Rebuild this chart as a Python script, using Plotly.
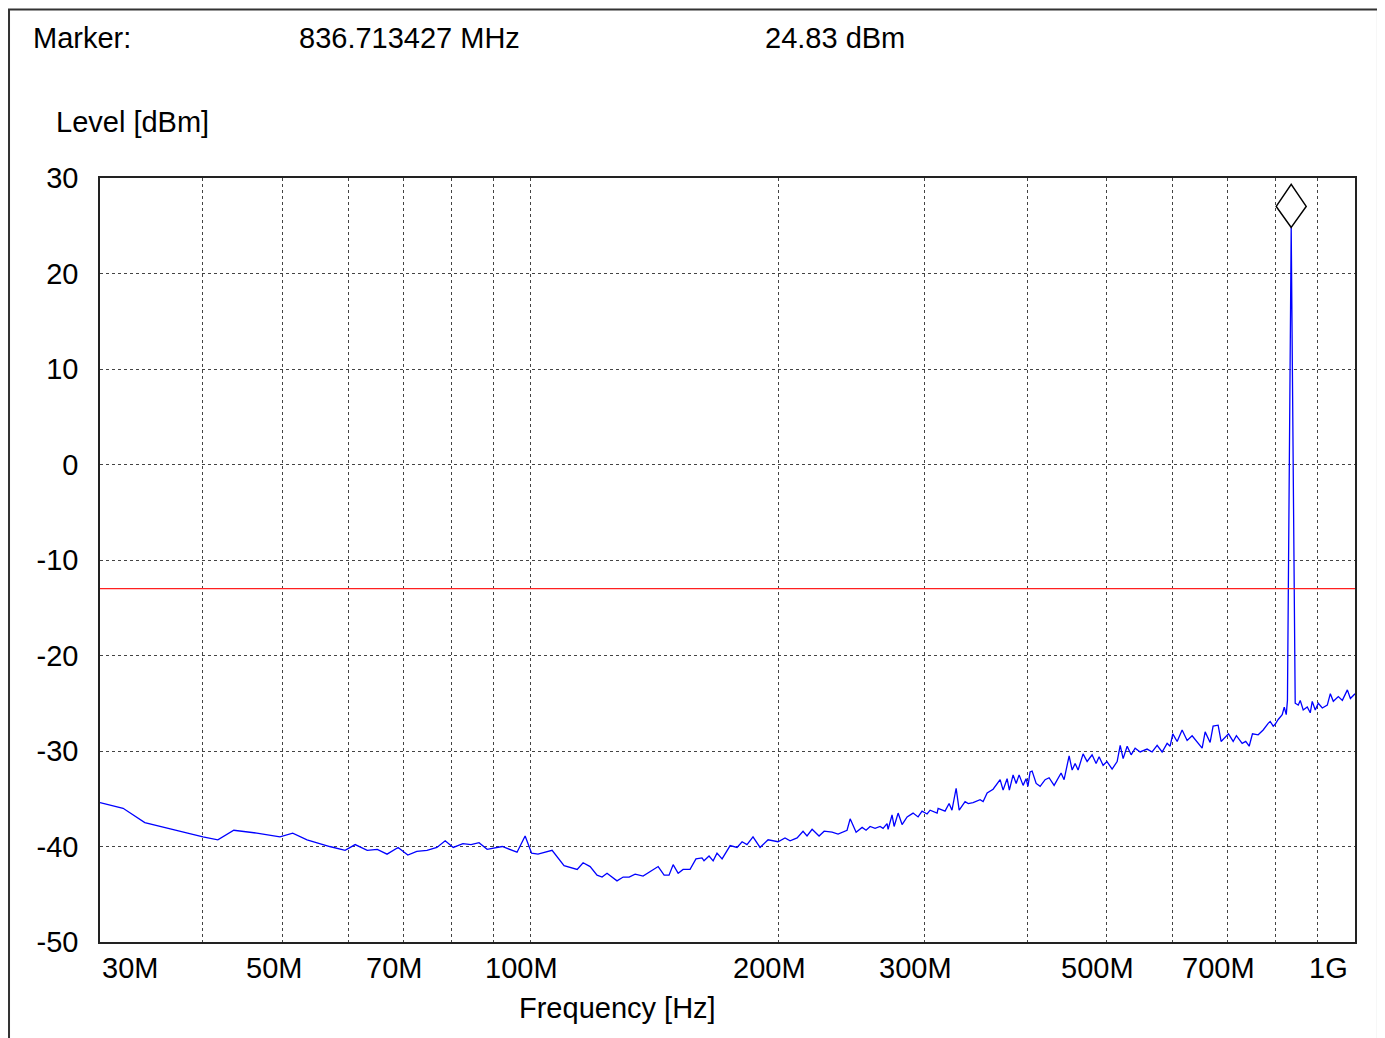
import numpy as np
import plotly.graph_objects as go

# sweep, frequency in MHz, level in dBm
freq_mhz = [
    30.0, 32.0, 34.0, 36.2, 38.0, 40.0, 41.7, 43.6, 46.5, 49.6,
    51.4, 53.5, 57.0, 59.5, 61.2, 63.3, 65.1, 66.9, 69.0, 70.9,
    72.7, 74.8, 76.9, 78.7, 80.5, 82.7, 84.6, 86.5, 88.5, 90.5,
    92.3, 96.2, 98.4, 100.2, 102.0, 106.1, 109.7, 113.8, 115.7, 118.0,
    120.3, 122.0, 123.7, 127.2, 129.4, 131.6, 133.8, 136.8, 142.7, 145.1,
    147.1, 148.8, 150.9, 153.0, 156.0, 158.6, 161.3, 162.2, 164.5, 166.4,
    168.2, 170.6, 174.5, 177.9, 180.4, 182.9, 186.0, 189.7, 194.0, 199.5,
    203.4, 206.3, 210.4, 213.9, 216.3, 219.4, 223.7, 226.9, 232.0, 235.9,
    241.9, 244.0, 248.1, 252.3, 255.1, 258.0, 261.6, 265.3, 267.5, 270.5,
    271.3, 274.3, 275.9, 279.0, 282.1, 286.1, 290.9, 295.0, 298.3, 302.5,
    305.1, 311.1, 312.0, 318.1, 321.7, 324.3, 328.1, 330.9, 336.4, 339.4,
    344.0, 350.8, 353.8, 357.8, 363.8, 371.0, 374.1, 378.3, 380.7, 384.7,
    388.0, 391.2, 395.6, 398.9, 401.0, 403.4, 405.7, 410.3, 414.9, 420.7,
    425.4, 431.4, 439.9, 443.6, 449.9, 453.7, 457.5, 461.3, 467.8, 473.1,
    479.7, 485.1, 489.2, 494.7, 500.0, 507.3, 514.5, 518.9, 523.2, 529.1,
    535.0, 541.0, 548.6, 559.4, 567.3, 575.3, 583.4, 591.6, 596.6, 601.0,
    608.4, 616.9, 625.6, 634.4, 643.3, 652.4, 657.9, 667.1, 672.7, 682.2,
    687.9, 702.3, 711.5, 717.9, 729.6, 736.9, 744.0, 750.9, 763.0, 773.7,
    784.6, 789.0, 795.7, 800.0, 806.9, 816.0, 820.6, 825.2, 828.0, 836.713427,
    846.1, 853.3, 858.1, 865.3, 875.1, 882.5, 887.4, 894.9, 902.5, 912.7,
    925.5, 933.4, 941.2, 954.5, 965.3, 978.9, 987.2, 1000.0,
]
level_dbm = [
    -35.4, -36.0, -37.5, -38.1, -38.5, -39.0, -39.3, -38.3, -38.6, -39.0,
    -38.6, -39.3, -40.0, -40.4, -39.8, -40.4, -40.3, -40.8, -40.1, -40.9,
    -40.5, -40.4, -40.1, -39.4, -40.1, -39.7, -39.8, -39.6, -40.3, -40.1,
    -40.0, -40.6, -38.9, -40.7, -40.8, -40.4, -42.0, -42.4, -41.7, -42.1,
    -43.0, -43.2, -42.8, -43.6, -43.2, -43.2, -42.9, -43.1, -42.1, -43.0,
    -43.0, -41.9, -42.8, -42.4, -42.4, -41.3, -41.2, -41.5, -41.0, -41.5,
    -40.7, -41.3, -39.9, -40.1, -39.5, -39.8, -39.0, -40.1, -39.3, -39.5,
    -39.1, -39.4, -39.1, -38.4, -38.9, -38.2, -38.9, -38.4, -38.5, -38.7,
    -38.3, -37.1, -38.5, -38.0, -38.3, -37.9, -38.1, -37.9, -38.1, -37.6,
    -38.2, -36.7, -37.9, -36.5, -37.7, -36.9, -36.5, -36.9, -36.3, -36.6,
    -36.2, -36.5, -36.0, -36.3, -35.5, -36.2, -33.9, -36.2, -35.3, -35.5,
    -35.4, -35.1, -35.3, -34.4, -34.0, -33.0, -34.1, -32.9, -34.1, -32.5,
    -33.4, -32.5, -33.6, -32.9, -33.7, -32.2, -32.1, -33.4, -33.7, -33.0,
    -32.8, -33.6, -32.3, -33.0, -30.5, -32.0, -31.3, -32.0, -30.3, -31.1,
    -30.4, -31.3, -30.6, -31.5, -31.1, -31.9, -31.1, -29.4, -30.8, -29.5,
    -30.4, -29.7, -30.1, -29.8, -30.1, -29.4, -30.1, -29.2, -29.5, -28.2,
    -29.0, -27.8, -28.9, -28.4, -29.0, -29.7, -28.0, -29.1, -27.4, -27.3,
    -29.0, -28.2, -29.0, -28.4, -29.2, -29.0, -29.5, -28.2, -28.3, -27.8,
    -27.1, -26.9, -27.4, -27.2, -26.7, -26.2, -25.4, -26.2, -24.7, 24.83,
    -25.0, -25.2, -24.7, -25.7, -25.4, -26.0, -24.8, -25.7, -25.0, -25.5,
    -25.2, -24.0, -24.8, -24.3, -24.7, -23.6, -24.5, -24.0,
]

limit_dbm = -13
marker_freq_mhz = 836.713427
marker_level = 24.83

grid_mhz = [30, 40, 50, 60, 70, 80, 90, 100, 200, 300, 400, 500, 600, 700, 800, 900, 1000]
label_mhz = [30, 50, 70, 100, 200, 300, 500, 700, 1000]
label_text = ["30M", "50M", "70M", "100M", "200M", "300M", "500M", "700M", "1G"]
ytick_vals = [-50, -40, -30, -20, -10, 0, 10, 20, 30]
ytick_text = ["-50", "-40", "-30", "-20", "-10", "0", "10", "20", "30"]

FONT = "Liberation Sans, Arial, sans-serif"
fsize = 29

freq_hz = np.array(freq_mhz) * 1e6

fig = go.Figure()
fig.add_trace(go.Scatter(x=freq_hz, y=level_dbm, mode="lines",
                         line=dict(color="#0000ff", width=1.3), showlegend=False))

# limit line
fig.add_hline(y=limit_dbm, line=dict(color="#ff2020", width=1.2))

# marker diamond sitting on top of the peak
fig.add_shape(type="path", xref="x", yref="y",
              xsizemode="pixel", ysizemode="pixel",
              xanchor=marker_freq_mhz * 1e6, yanchor=marker_level,
              path="M 0 0 L 15 21 L 0 43 L -15 21 Z",
              line=dict(color="black", width=1.5))

# outer frame of the page
fig.add_shape(type="rect", xref="paper", yref="paper",
              x0=-0.0725, x1=1.0183, y0=-0.2, y1=1.2205,
              line=dict(color="#333", width=2), layer="below")

# x tick labels (placed a little left of their gridline, ends kept inside)
for v, t in zip(label_mhz, label_text):
    if v == label_mhz[0]:
        anchor, shift = "left", 0
    elif v == label_mhz[-1]:
        anchor, shift = "right", -5
    else:
        anchor, shift = "center", -9
    fig.add_annotation(x=np.log10(v * 1e6), y=0, xref="x", yref="paper",
                       text=t, showarrow=False, xanchor=anchor, yanchor="top",
                       xshift=shift, yshift=-8, font=dict(size=fsize, color="black"))

texts = [
    ("Marker:", -0.0551, 1.1832, "left"),
    ("836.713427 MHz", 0.1566, 1.1832, "left"),
    ("24.83 dBm", 0.5279, 1.1832, "left"),
    ("Level [dBm]", -0.0367, 1.0733, "left"),
    ("Frequency [Hz]", 0.4120, -0.0864, "center"),
]
for t, x, y, a in texts:
    fig.add_annotation(x=x, y=y, xref="paper", yref="paper", text=t, showarrow=False,
                       xanchor=a, yanchor="middle", font=dict(size=fsize, color="black"))

fig.update_xaxes(type="log", range=[np.log10(30e6), np.log10(1000e6)],
                 tickvals=[g * 1e6 for g in grid_mhz], showticklabels=False,
                 showgrid=True, gridcolor="#444", griddash="dot", gridwidth=1,
                 showline=True, mirror=True, linecolor="#222", linewidth=1.5,
                 zeroline=False, ticks="")
fig.update_yaxes(range=[-50, 30], tickvals=ytick_vals, ticktext=ytick_text,
                 showgrid=True, gridcolor="#444", griddash="dot", gridwidth=1,
                 showline=True, mirror=True, linecolor="#222", linewidth=1.5,
                 zeroline=False, ticks="", ticklabelstandoff=14,
                 tickfont=dict(size=fsize, color="black"))

# the page body adds 8px round the plot, so the figure is trimmed by that much
fig.update_layout(width=1377, height=1030,
                  margin=dict(l=92, r=30, t=170, b=96),
                  paper_bgcolor="white", plot_bgcolor="white",
                  font=dict(family=FONT, size=fsize, color="black"))

fig.write_html("out.html")
